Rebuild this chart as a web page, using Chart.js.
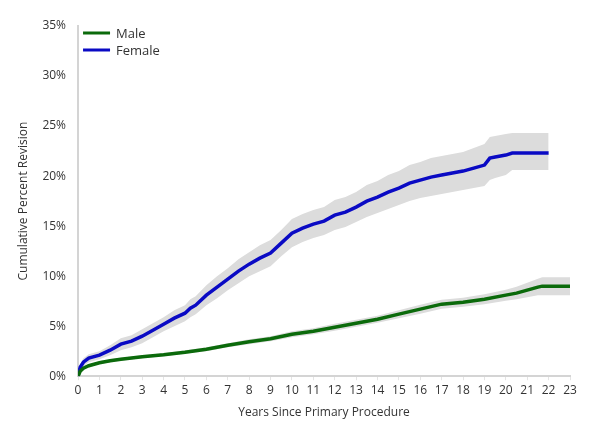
<!DOCTYPE html>
<html>
<head>
<meta charset="utf-8">
<script src="https://cdn.jsdelivr.net/npm/chart.js@4.4.0/dist/chart.umd.min.js"></script>
<style>
  html, body { margin: 0; padding: 0; background: #fff; }
  #wrap { width: 600px; height: 438px; }
</style>
</head>
<body>
<div id="wrap"><canvas id="chart"></canvas></div>
<script>
// cumulative percent revision
const maleYears = [0, 0.1, 0.25, 0.5, 1, 1.5, 2, 3, 4, 5, 6, 7, 8, 9, 10, 11, 12, 13, 14, 15, 16, 17, 18, 19, 20, 20.5, 21, 21.5, 21.7, 23];
const maleRate  = [0, 0.5, 0.8, 1.05, 1.35, 1.55, 1.7, 1.95, 2.15, 2.4, 2.7, 3.1, 3.45, 3.75, 4.2, 4.5, 4.9, 5.3, 5.7, 6.2, 6.7, 7.2, 7.4, 7.7, 8.1, 8.3, 8.6, 8.9, 9.0, 9.0];
const maleLower = [0, 0.4, 0.65, 0.9, 1.2, 1.4, 1.55, 1.8, 2.0, 2.25, 2.5, 2.9, 3.2, 3.5, 3.9, 4.2, 4.55, 4.95, 5.35, 5.8, 6.25, 6.75, 6.95, 7.2, 7.55, 7.7, 7.9, 8.1, 8.1, 8.1];
const maleUpper = [0, 0.6, 0.95, 1.2, 1.5, 1.7, 1.85, 2.1, 2.3, 2.6, 2.9, 3.3, 3.7, 4.0, 4.5, 4.8, 5.25, 5.65, 6.05, 6.6, 7.15, 7.65, 7.85, 8.2, 8.65, 8.95, 9.35, 9.75, 9.9, 9.9];

const femaleYears = [0, 0.1, 0.25, 0.5, 1, 1.5, 2, 2.5, 3, 3.5, 4, 4.5, 5, 5.25, 5.5, 6, 6.5, 7, 7.5, 8, 8.5, 9, 9.5, 10, 10.5, 11, 11.5, 12, 12.5, 13, 13.5, 14, 14.5, 15, 15.5, 16, 16.5, 17, 17.5, 18, 18.5, 19, 19.25, 19.5, 20, 20.3, 22];
const femaleRate  = [0, 0.9, 1.4, 1.8, 2.1, 2.6, 3.2, 3.5, 4.0, 4.6, 5.2, 5.8, 6.3, 6.8, 7.1, 8.1, 8.9, 9.7, 10.5, 11.2, 11.8, 12.3, 13.3, 14.3, 14.8, 15.2, 15.5, 16.1, 16.4, 16.9, 17.5, 17.9, 18.4, 18.8, 19.3, 19.6, 19.9, 20.1, 20.3, 20.5, 20.8, 21.1, 21.8, 21.9, 22.1, 22.3, 22.3];
const femaleLower = [0, 0.6, 1.0, 1.4, 1.7, 2.1, 2.6, 2.9, 3.3, 3.9, 4.5, 5.0, 5.5, 5.9, 6.2, 7.1, 7.8, 8.6, 9.3, 10.0, 10.5, 11.0, 12.0, 12.9, 13.4, 13.8, 14.1, 14.6, 14.9, 15.4, 15.9, 16.3, 16.7, 17.1, 17.5, 17.8, 18.0, 18.2, 18.4, 18.6, 18.8, 19.0, 19.6, 19.8, 20.1, 20.6, 20.6];
const femaleUpper = [0, 1.2, 1.8, 2.2, 2.5, 3.1, 3.8, 4.1, 4.7, 5.3, 5.9, 6.6, 7.1, 7.7, 8.0, 9.1, 10.0, 10.8, 11.7, 12.4, 13.1, 13.6, 14.6, 15.7, 16.2, 16.6, 16.9, 17.6, 17.9, 18.4, 19.1, 19.5, 20.1, 20.5, 21.1, 21.4, 21.8, 22.0, 22.2, 22.4, 22.8, 23.2, 23.9, 24.0, 24.2, 24.3, 24.3];

const pts = (xs, ys) => xs.map((x, i) => ({ x: x, y: ys[i] }));

const GREEN = '#0b6a0b';
const BLUE = '#0a0ac4';
const BAND = '#dcdcdc';
const TEXT = '#333333';
const FONT = "'Open Sans', 'Noto Sans', sans-serif";

const legendPlugin = {
  id: 'cornerLegend',
  afterDraw(chart) {
    const ctx = chart.ctx;
    const left = chart.chartArea.left;
    const top = chart.chartArea.top;
    const items = [['Male', GREEN], ['Female', BLUE]];
    ctx.save();
    ctx.font = '13px ' + FONT;
    ctx.textBaseline = 'middle';
    items.forEach((it, i) => {
      const y = top + 7 + i * 17;
      ctx.strokeStyle = it[1];
      ctx.lineWidth = 3;
      ctx.beginPath();
      ctx.moveTo(left + 5, y);
      ctx.lineTo(left + 32, y);
      ctx.stroke();
      ctx.fillStyle = TEXT;
      ctx.fillText(it[0], left + 38, y + 1);
    });
    ctx.restore();
  }
};

const bandStyle = { borderWidth: 0, pointRadius: 0, backgroundColor: BAND, order: 10 };

new Chart(document.getElementById('chart'), {
  type: 'line',
  data: {
    datasets: [
      { label: 'Female upper', data: pts(femaleYears, femaleUpper), fill: false, ...bandStyle },
      { label: 'Female lower', data: pts(femaleYears, femaleLower), fill: '-1', ...bandStyle },
      { label: 'Male upper', data: pts(maleYears, maleUpper), fill: false, ...bandStyle },
      { label: 'Male lower', data: pts(maleYears, maleLower), fill: '-1', ...bandStyle },
      { label: 'Male', data: pts(maleYears, maleRate), borderColor: GREEN, borderWidth: 3.5, pointRadius: 0, fill: false, order: 1 },
      { label: 'Female', data: pts(femaleYears, femaleRate), borderColor: BLUE, borderWidth: 3.5, pointRadius: 0, fill: false, order: 1 }
    ]
  },
  options: {
    responsive: true,
    maintainAspectRatio: false,
    animation: false,
    layout: { padding: { left: 12, right: 30, top: 26, bottom: 14 } },
    scales: {
      x: {
        type: 'linear',
        min: 0,
        max: 23,
        border: { color: '#d4d4d4', width: 2 },
        grid: { drawOnChartArea: false, tickLength: 4, color: '#e4e4e4' },
        ticks: { stepSize: 1, color: TEXT, font: { family: FONT, size: 12 }, padding: 3 },
        title: { display: true, text: 'Years Since Primary Procedure', color: TEXT, font: { family: FONT, size: 12 }, padding: { top: 5 } }
      },
      y: {
        min: 0,
        max: 35,
        border: { color: '#d4d4d4', width: 2 },
        grid: { display: false },
        ticks: { stepSize: 5, color: TEXT, font: { family: FONT, size: 12 }, padding: 4, callback: v => v + '%' },
        title: { display: true, text: 'Cumulative Percent Revision', color: TEXT, font: { family: FONT, size: 12 }, padding: { bottom: 8 } }
      }
    },
    plugins: {
      legend: { display: false },
      tooltip: { enabled: false }
    }
  },
  plugins: [legendPlugin]
});
</script>
</body>
</html>
